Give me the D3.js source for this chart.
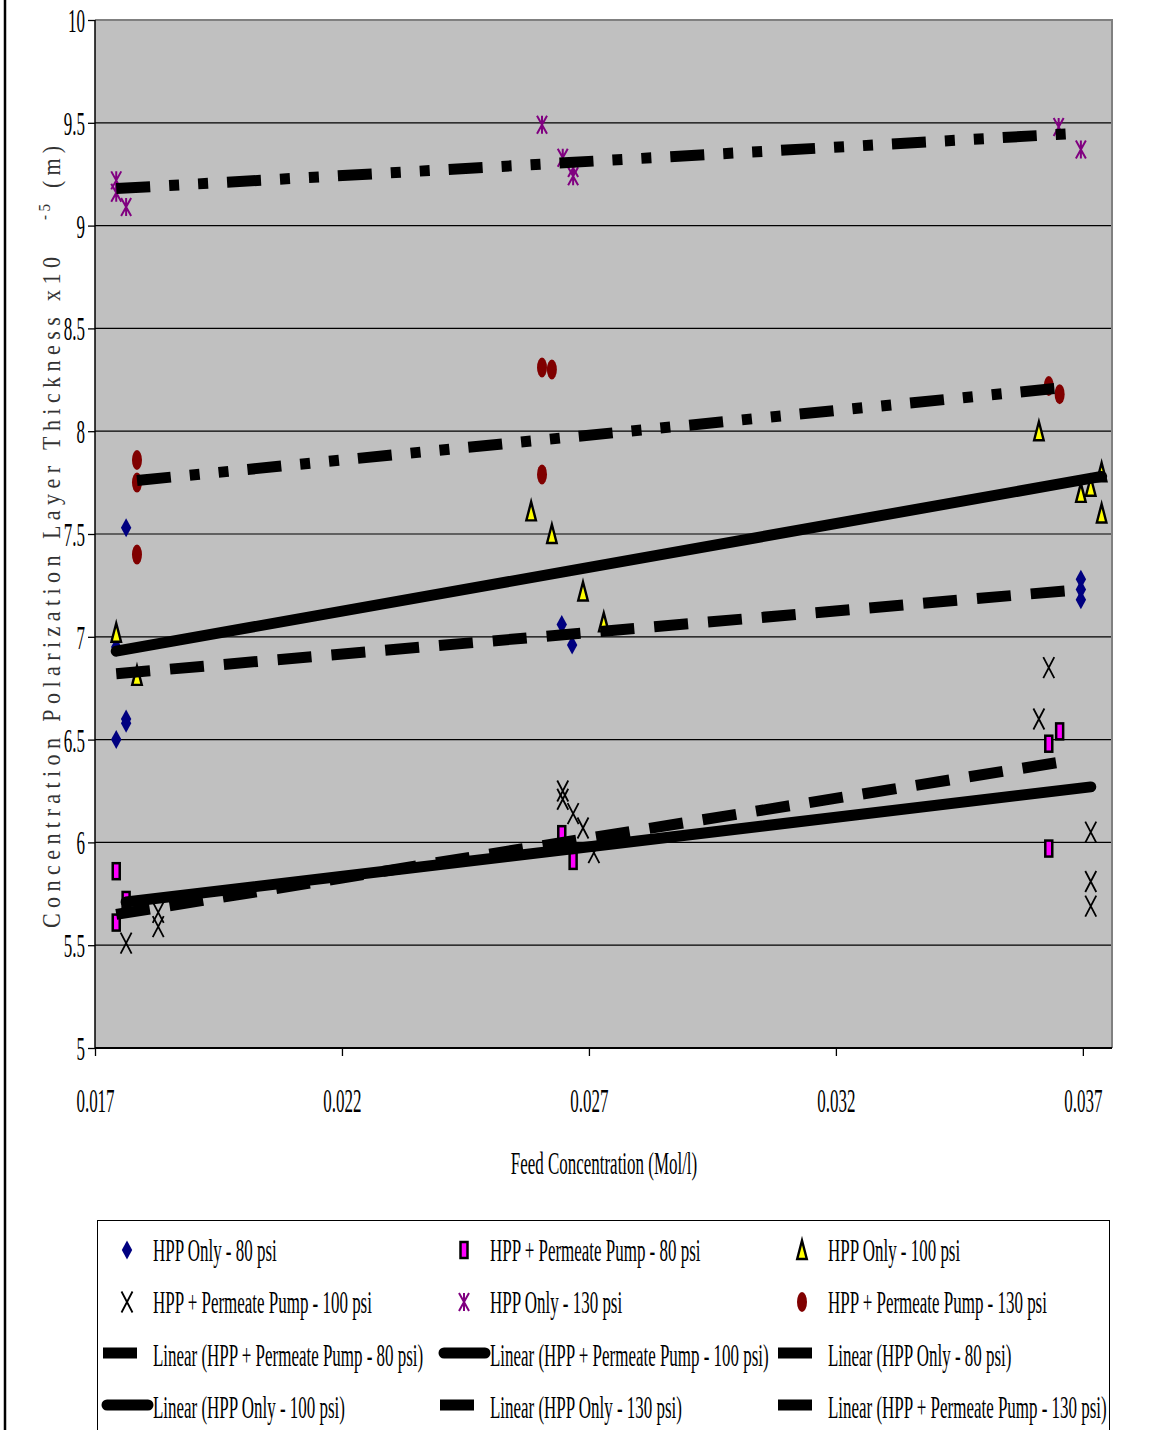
<!DOCTYPE html>
<html>
<head>
<meta charset="utf-8">
<script src="https://cdn.jsdelivr.net/npm/d3@7"></script>
<style>
  body { margin: 0; background: #fff; }
  svg { display: block; }
  text { font-family: "Liberation Serif", "Times New Roman", serif; fill: #000; }
  text.ytitle { fill: #333; }
</style>
</head>
<body>
<svg id="chart" width="1157" height="1430"></svg>
<script>
// ---- Axis ticks ----
const xTickValues = [0.017, 0.022, 0.027, 0.032, 0.037];
const xTickLabels = ["0.017", "0.022", "0.027", "0.032", "0.037"];
const yTickValues = [5, 5.5, 6, 6.5, 7, 7.5, 8, 8.5, 9, 9.5, 10];
const yTickLabels = ["5", "5.5", "6", "6.5", "7", "7.5", "8", "8.5", "9", "9.5", "10"];

// ---- Series: [feed concentration (mol/l), CP layer thickness (x1e-5 m)] ----
const seriesNames = [
  "HPP Only - 80 psi",
  "HPP + Permeate Pump - 80 psi",
  "HPP Only - 100 psi",
  "HPP + Permeate Pump - 100 psi",
  "HPP Only - 130 psi",
  "HPP + Permeate Pump - 130 psi"
];
const hppOnly80 = [
  [0.01743, 6.50], [0.01763, 6.58], [0.01763, 6.60], [0.01763, 7.53], [0.01743, 6.95],
  [0.02645, 7.06], [0.02666, 6.96],
  [0.03696, 7.28], [0.03696, 7.23], [0.03696, 7.18]
];
const hppPump80 = [
  [0.01743, 5.86], [0.01763, 5.72], [0.01743, 5.61],
  [0.02645, 6.04], [0.02668, 5.91],
  [0.03631, 6.48], [0.03653, 6.54], [0.03631, 5.97]
];
const hppOnly100 = [
  [0.01743, 7.02], [0.01785, 6.81],
  [0.02583, 7.61], [0.02625, 7.50], [0.02688, 7.22], [0.02730, 7.07],
  [0.03611, 8.00], [0.03696, 7.70], [0.03716, 7.73], [0.03738, 7.80], [0.03738, 7.60]
];
const hppPump100 = [
  [0.01763, 5.51], [0.01828, 5.59], [0.01828, 5.66],
  [0.02647, 6.25], [0.02647, 6.21], [0.02668, 6.14], [0.02688, 6.07], [0.02710, 5.95],
  [0.03631, 6.85], [0.03611, 6.60], [0.03716, 6.05], [0.03716, 5.81], [0.03716, 5.69]
];
const hppOnly130 = [
  [0.01743, 9.22], [0.01743, 9.16], [0.01763, 9.09],
  [0.02605, 9.49], [0.02647, 9.33], [0.02668, 9.28], [0.02668, 9.24],
  [0.03651, 9.48], [0.03696, 9.37]
];
const hppPump130 = [
  [0.01785, 7.86], [0.01785, 7.75], [0.01785, 7.40],
  [0.02605, 8.31], [0.02625, 8.30], [0.02605, 7.79],
  [0.03631, 8.22], [0.03653, 8.18]
];
const seriesData = [hppOnly80, hppPump80, hppOnly100, hppPump100, hppOnly130, hppPump130];

// ---- Linear trend lines: fitted value at the smallest and largest feed concentration ----
const trendNames = [
  "Linear (HPP + Permeate Pump - 80 psi)",
  "Linear (HPP + Permeate Pump - 100 psi)",
  "Linear (HPP Only - 80 psi)",
  "Linear (HPP Only - 100 psi)",
  "Linear (HPP Only - 130 psi)",
  "Linear (HPP + Permeate Pump - 130 psi)"
];
const trendSeries = [1, 3, 0, 2, 4, 5];          // index into seriesData
const trendAtMin = [5.65, 5.71, 6.82, 6.93, 9.18, 7.76];
const trendAtMax = [6.39, 6.27, 7.23, 7.78, 9.45, 8.21];

// ---- Styling ----
const markerTypes = ["diamond", "rect", "triangle", "cross", "star", "ellipse"];
const trendStyles = ["dash", "solid", "dash", "solid", "dashdotdot", "dashdotdot"];
const dashArrays = { solid: null, dash: "34 20", dashdotdot: "34 19 10 19 10 19" };
const SX = 0.53; // horizontal compression of all type

const svg = d3.select("#chart");
const plot = { left: 95, right: 1112, top: 20, bottom: 1048 };

const x = d3.scaleLinear().domain([0.017, 0.03759]).range([plot.left, plot.right]);
const y = d3.scaleLinear().domain([5, 10]).range([plot.bottom, plot.top]);

// condensed text helper
function ctext(parent, px, py, str, size, anchor, sx = SX) {
  return parent.append("text")
    .attr("transform", `translate(${px},${py}) scale(${sx},1)`)
    .attr("text-anchor", anchor || "start")
    .attr("font-size", size)
    .text(str);
}

// outer frame edge
svg.append("line").attr("x1", 5).attr("x2", 5).attr("y1", 0).attr("y2", 1430)
  .attr("stroke", "#000").attr("stroke-width", 2.5);

// plot background
svg.append("rect")
  .attr("x", plot.left).attr("y", plot.top)
  .attr("width", plot.right - plot.left).attr("height", plot.bottom - plot.top)
  .attr("fill", "#C0C0C0");

// horizontal gridlines
svg.append("g").selectAll("line")
  .data(yTickValues.filter(v => v > 5 && v < 10))
  .join("line")
  .attr("x1", plot.left).attr("x2", plot.right)
  .attr("y1", d => y(d)).attr("y2", d => y(d))
  .attr("stroke", "#000").attr("stroke-width", 1.2);

// top / right border of the plot area
svg.append("path")
  .attr("d", `M${plot.left},${plot.top}H${plot.right}V${plot.bottom}`)
  .attr("fill", "none").attr("stroke", "#808080").attr("stroke-width", 2);

// ---- markers ----
const markerDraw = {
  diamond: g => g.append("path").attr("d", "M0,-9.5L5.2,0L0,9.5L-5.2,0Z").attr("fill", "#000080"),
  rect: g => g.append("rect").attr("x", -3.5).attr("y", -8).attr("width", 7).attr("height", 16)
    .attr("fill", "#FF00FF").attr("stroke", "#000").attr("stroke-width", 2.5),
  triangle: g => g.append("path").attr("d", "M0,-9.5L4.8,9L-4.8,9Z")
    .attr("fill", "#FFFF00").attr("stroke", "#000").attr("stroke-width", 2.4),
  cross: g => g.append("path").attr("d", "M-5.5,-10.5L5.5,10.5M5.5,-10.5L-5.5,10.5")
    .attr("fill", "none").attr("stroke", "#000").attr("stroke-width", 1.8),
  star: g => g.append("path").attr("d", "M-5,-9L5,9M5,-9L-5,9M0,-9V9")
    .attr("fill", "none").attr("stroke", "#800080").attr("stroke-width", 2),
  ellipse: g => g.append("ellipse").attr("rx", 5).attr("ry", 10).attr("fill", "#800000")
};

const markerLayer = svg.append("g");
seriesData.forEach((pts, i) => {
  const g = markerLayer.append("g");
  pts.forEach(([cx, cy]) => {
    const m = g.append("g").attr("transform", `translate(${x(cx)},${y(cy)})`);
    markerDraw[markerTypes[i]](m);
  });
});

// ---- trend lines ----
const lineGen = d3.line().x(d => x(d[0])).y(d => y(d[1]));
function styleTrend(sel, style) {
  sel.attr("fill", "none").attr("stroke", "#000").attr("stroke-width", 11)
    .attr("stroke-linecap", style === "solid" ? "round" : "butt");
  if (dashArrays[style]) sel.attr("stroke-dasharray", dashArrays[style]);
  return sel;
}
const trendLayer = svg.append("g");
trendSeries.forEach((si, i) => {
  const [x0, x1] = d3.extent(seriesData[si], d => d[0]);
  const pts = [[x0, trendAtMin[i]], [x1, trendAtMax[i]]];
  styleTrend(trendLayer.append("path").attr("d", lineGen(pts)), trendStyles[i]);
});

// ---- axes ----
const yAxis = svg.append("g").attr("transform", `translate(${plot.left},0)`)
  .call(d3.axisLeft(y).tickValues(yTickValues).tickSize(7).tickSizeOuter(0)
    .tickFormat((d, i) => yTickLabels[i]));
const xAxis = svg.append("g").attr("transform", `translate(0,${plot.bottom})`)
  .call(d3.axisBottom(x).tickValues(xTickValues).tickSize(8).tickSizeOuter(0)
    .tickFormat((d, i) => xTickLabels[i]));
[yAxis, xAxis].forEach(a => {
  a.select(".domain").remove();
  a.selectAll(".tick line").attr("stroke", "#000").attr("stroke-width", 1.3);
  a.selectAll("text").attr("font-family", null).attr("fill", "#000");
});
yAxis.selectAll(".tick text")
  .attr("x", null).attr("dy", null)
  .attr("transform", `translate(-10,11.5) scale(0.5,1)`)
  .attr("font-size", 34).attr("text-anchor", "end");
xAxis.selectAll(".tick text")
  .attr("y", null).attr("dy", null)
  .attr("transform", `translate(0,64) scale(0.5,1)`)
  .attr("font-size", 34).attr("text-anchor", "middle");
svg.append("line").attr("x1", plot.left).attr("x2", plot.left)
  .attr("y1", plot.top).attr("y2", plot.bottom).attr("stroke", "#000").attr("stroke-width", 1.5);
svg.append("line").attr("x1", plot.left).attr("x2", plot.right)
  .attr("y1", plot.bottom).attr("y2", plot.bottom).attr("stroke", "#000").attr("stroke-width", 2);

// ---- axis titles ----
ctext(svg, 604, 1174, "Feed Concentration (Mol/l)", 32, "middle");

const yTitle = svg.append("g")
  .attr("transform", "translate(60,928) rotate(-90) scale(1,1.15)");
yTitle.append("text").attr("class", "ytitle").attr("x", 0).attr("y", 0).attr("font-size", 22)
  .attr("textLength", 671).attr("lengthAdjust", "spacing")
  .text("Concentration Polarization Layer Thickness x10");
yTitle.append("text").attr("class", "ytitle").attr("x", 708).attr("y", -9).attr("font-size", 15)
  .attr("textLength", 16).attr("lengthAdjust", "spacing").text("-5");
yTitle.append("text").attr("class", "ytitle").attr("x", 740).attr("y", 0).attr("font-size", 22)
  .attr("textLength", 42).attr("lengthAdjust", "spacing").text("(m)");

// ---- legend ----
const legend = svg.append("g");
legend.append("rect").attr("x", 97.5).attr("y", 1220.5).attr("width", 1012).attr("height", 230)
  .attr("fill", "#fff").attr("stroke", "#000").attr("stroke-width", 1);
const colTextX = [153, 490, 828];
const rowY = [1250, 1302, 1355, 1407];

seriesNames.forEach((name, i) => {
  const cx = colTextX[i % 3], cy = rowY[Math.floor(i / 3)];
  const m = legend.append("g").attr("transform", `translate(${cx - 26},${cy})`);
  markerDraw[markerTypes[i]](m);
  ctext(legend, cx, cy + 11, name, 32, "start");
});
trendNames.forEach((name, i) => {
  const k = i + 6;
  const cx = colTextX[k % 3], cy = rowY[Math.floor(k / 3)];
  const style = trendStyles[i];
  const seg = legend.append("path").attr("d", `M${cx - 50},${cy - 2}H${cx - 1}`);
  styleTrend(seg, style);
  if (style === "solid") seg.attr("d", `M${cx - 46},${cy - 2}H${cx - 5}`);
  ctext(legend, cx, cy + 11, name, 32, "start");
});
</script>
</body>
</html>
